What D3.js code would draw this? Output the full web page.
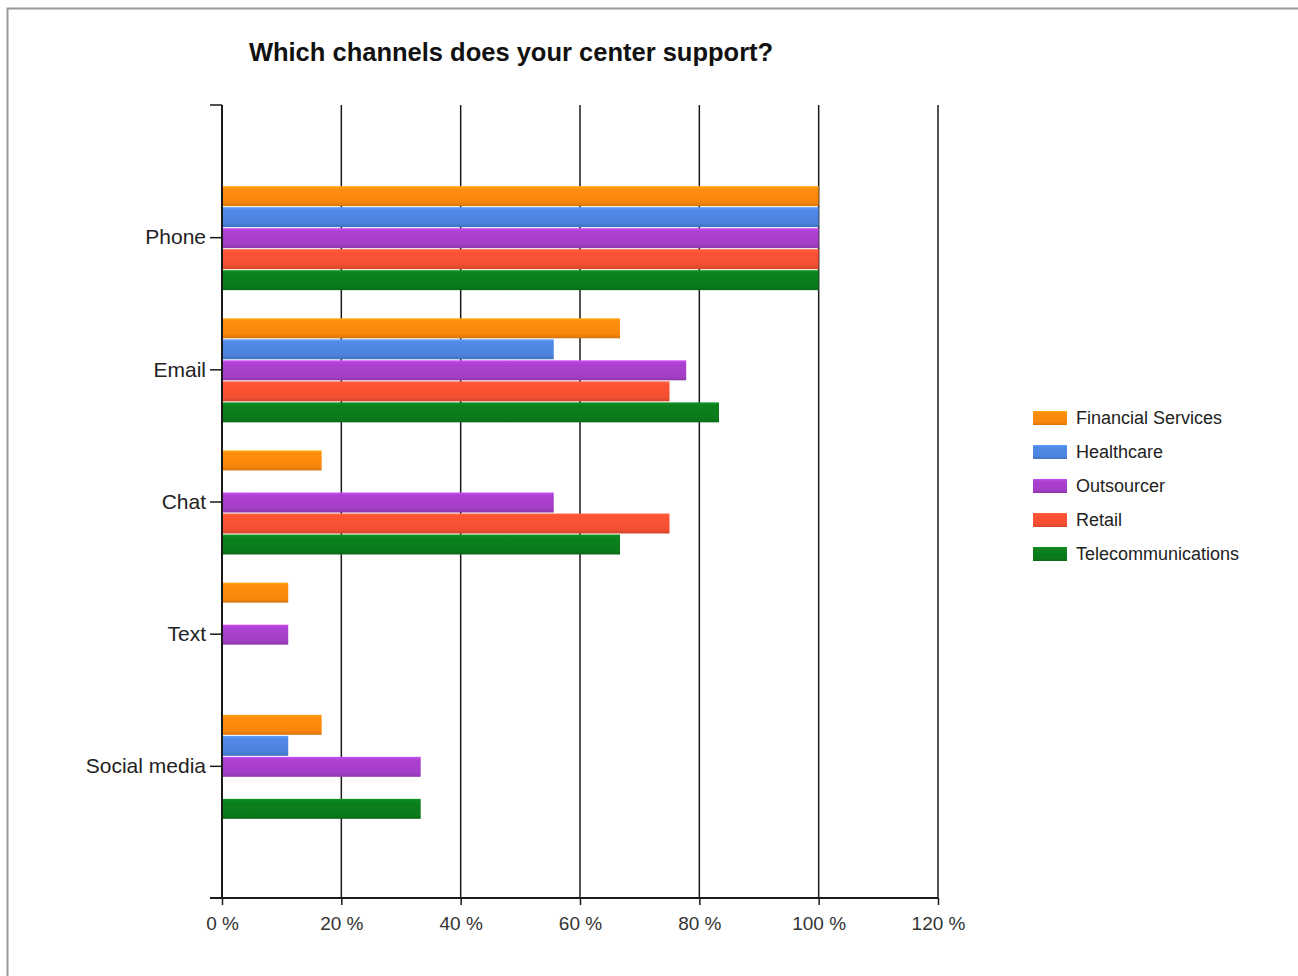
<!DOCTYPE html>
<html><head><meta charset="utf-8">
<script src="https://cdn.jsdelivr.net/npm/d3@7"></script>
<style>body{margin:0;background:#fff;}svg{display:block;}</style>
</head><body>
<script>
const categories = ["Phone", "Email", "Chat", "Text", "Social media"];
const seriesNames = ["Financial Services", "Healthcare", "Outsourcer", "Retail", "Telecommunications"];
const financial = [100, 66.7, 16.7, 11.1, 16.7];
const healthcare = [100, 55.6, 0, 0, 11.1];
const outsourcer = [100, 77.8, 55.6, 11.1, 33.3];
const retail = [100, 75, 75, 0, 0];
const telecom = [100, 83.3, 66.7, 0, 33.3];
const xTicks = [0, 20, 40, 60, 80, 100, 120];
const colors = ["#f8860c", "#4c82dc", "#a43ec6", "#f24f32", "#0b7a1c"];
const seriesValues = [financial, healthcare, outsourcer, retail, telecom];

(function () {
const W = 1298, H = 976;
const svg = d3.select("body").append("svg").attr("width", W).attr("height", H);

// frame
svg.append("rect").attr("x", 7.5).attr("y", 8.5).attr("width", 1300).attr("height", 1000)
  .attr("fill", "none").attr("stroke", "#9a9a9a").attr("stroke-width", 2);

const defs = svg.append("defs");
colors.forEach((c, i) => {
  const g = defs.append("linearGradient").attr("id", "g" + i).attr("x1", 0).attr("y1", 0).attr("x2", 0).attr("y2", 1);
  const base = d3.color(c);
  g.append("stop").attr("offset", "0%").attr("stop-color", base.brighter(0.6));
  g.append("stop").attr("offset", "15%").attr("stop-color", base.brighter(0.15));
  g.append("stop").attr("offset", "80%").attr("stop-color", base);
  g.append("stop").attr("offset", "100%").attr("stop-color", base.darker(0.4));
});

const pL = 222, pR = 938, pT = 105, pB = 898;
const x = d3.scaleLinear().domain([0, 120]).range([pL, pR]);
const y = d3.scalePoint().domain(categories).range([pT, pB]).padding(1);
const groupH = 104;
const inner = d3.scaleBand().domain(seriesNames).range([-groupH / 2 + 1, groupH / 2 + 1]).paddingInner(0.05);

svg.append("text").attr("x", 511).attr("y", 61).attr("text-anchor", "middle")
  .attr("font-family", "Liberation Sans, Arial, sans-serif").attr("font-weight", "bold")
  .attr("font-size", 25.5).attr("fill", "#111").text("Which channels does your center support?");

// gridlines
svg.append("g").selectAll("line").data(xTicks.slice(1)).join("line")
  .attr("x1", d => x(d)).attr("x2", d => x(d)).attr("y1", pT).attr("y2", pB)
  .attr("stroke", "#1a1a1a").attr("stroke-width", 1.5);

// bars
categories.forEach((cat, ci) => {
  seriesNames.forEach((s, si) => {
    const v = seriesValues[si][ci];
    if (v <= 0) return;
    svg.append("rect").attr("x", x(0)).attr("y", y(cat) + inner(s))
      .attr("width", x(v) - x(0)).attr("height", inner.bandwidth())
      .attr("fill", "url(#g" + si + ")");
  });
});

// y axis
const yAxis = d3.axisLeft(y).tickSize(12).tickPadding(4);
const ya = svg.append("g").attr("transform", `translate(${pL},0)`).call(yAxis);
ya.select(".domain").remove();
ya.selectAll("line").attr("stroke", "#1a1a1a").attr("stroke-width", 1.5);
ya.selectAll("text").attr("font-family", "Liberation Sans, Arial, sans-serif").attr("font-size", 21).attr("fill", "#222");
svg.append("line").attr("x1", pL).attr("x2", pL).attr("y1", pT).attr("y2", pB)
  .attr("stroke", "#1a1a1a").attr("stroke-width", 2);
svg.append("line").attr("x1", pL - 12).attr("x2", pL).attr("y1", pT).attr("y2", pT)
  .attr("stroke", "#1a1a1a").attr("stroke-width", 1.5);

// x axis
const xAxis = d3.axisBottom(x).tickValues(xTicks).tickSize(7).tickPadding(12).tickFormat(d => d + " %");
const xa = svg.append("g").attr("transform", `translate(0,${pB})`).call(xAxis);
xa.select(".domain").remove();
xa.selectAll("line").attr("stroke", "#1a1a1a").attr("stroke-width", 1.5);
xa.selectAll("text").attr("font-family", "Liberation Sans, Arial, sans-serif").attr("font-size", 19).attr("fill", "#333");
svg.append("line").attr("x1", pL - 12).attr("x2", pR).attr("y1", pB).attr("y2", pB)
  .attr("stroke", "#1a1a1a").attr("stroke-width", 2);

// legend
const lg = svg.append("g");
seriesNames.forEach((s, i) => {
  const cy = 418 + i * 34;
  lg.append("rect").attr("x", 1033).attr("y", cy - 7).attr("width", 34).attr("height", 14).attr("fill", "url(#g" + i + ")");
  lg.append("text").attr("x", 1076).attr("y", cy + 6).attr("font-family", "Liberation Sans, Arial, sans-serif")
    .attr("font-size", 18).attr("fill", "#222").text(s);
});
})();
</script>
</body></html>
